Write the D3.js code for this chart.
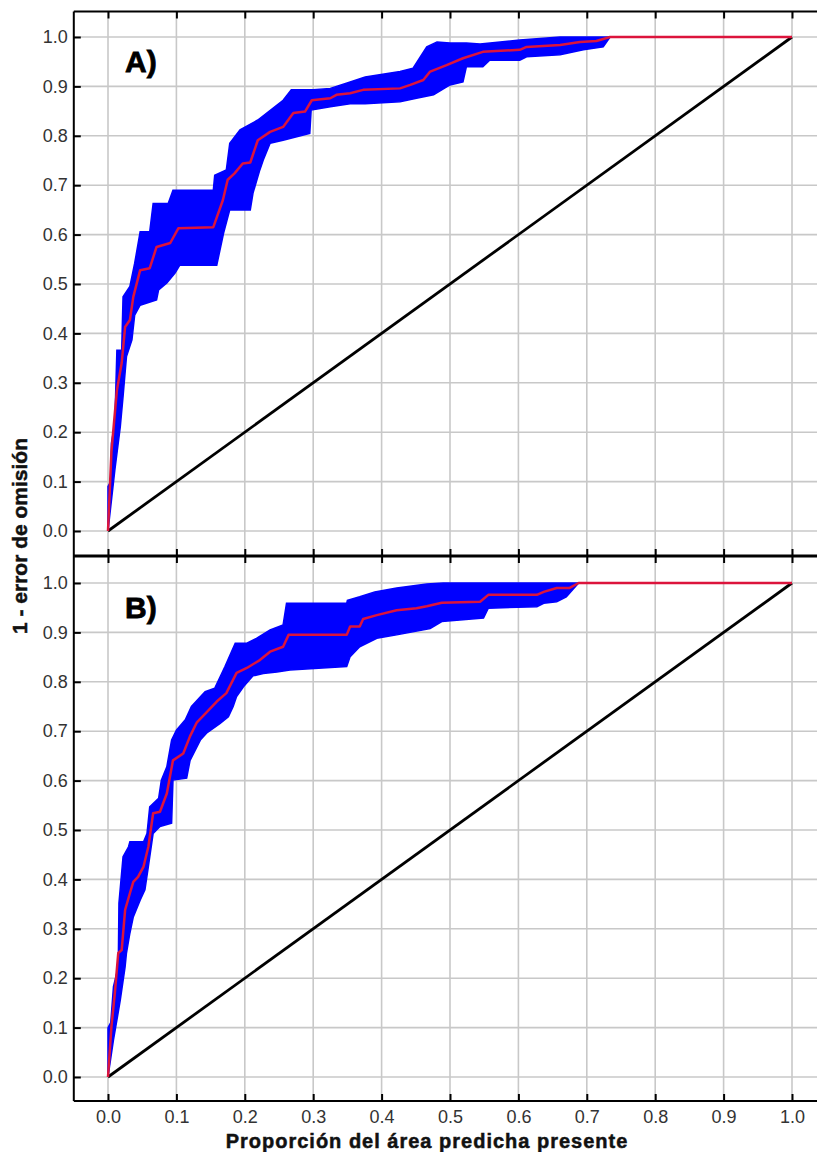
<!DOCTYPE html>
<html>
<head>
<meta charset="utf-8">
<script src="https://cdn.jsdelivr.net/npm/d3@7"></script>
<style>
  html, body { margin: 0; padding: 0; background: #fff; }
  svg { display: block; }
</style>
</head>
<body>
<svg id="chart" width="817" height="1152"></svg>
<script>
// ---------- DATA ----------
const xTicks = [0, 0.1, 0.2, 0.3, 0.4, 0.5, 0.6, 0.7, 0.8, 0.9, 1.0];
const yTicks = [0, 0.1, 0.2, 0.3, 0.4, 0.5, 0.6, 0.7, 0.8, 0.9, 1.0];
const xTickLabels = ["0.0","0.1","0.2","0.3","0.4","0.5","0.6","0.7","0.8","0.9","1.0"];
const yTickLabels = ["0.0","0.1","0.2","0.3","0.4","0.5","0.6","0.7","0.8","0.9","1.0"];
const panelLabels = ["A)", "B)"];
const xTitle = "Proporción del área predicha presente";
const yTitle = "1 - error de omisión";
const diagonal = [[0, 0], [1, 1]];

// Panel A: mean ROC curve, upper and lower band
const meanA = [[0,0],[0.005,0.16],[0.013,0.285],[0.020,0.34],[0.025,0.413],[0.032,0.427],[0.037,0.474],[0.047,0.528],[0.061,0.532],[0.071,0.575],[0.091,0.583],[0.103,0.613],[0.154,0.615],[0.168,0.67],[0.175,0.711],[0.185,0.724],[0.197,0.744],[0.208,0.746],[0.219,0.791],[0.237,0.808],[0.256,0.818],[0.271,0.846],[0.288,0.849],[0.298,0.872],[0.325,0.876],[0.334,0.883],[0.354,0.886],[0.373,0.893],[0.427,0.896],[0.442,0.903],[0.461,0.913],[0.471,0.930],[0.495,0.943],[0.519,0.957],[0.548,0.970],[0.602,0.974],[0.612,0.980],[0.661,0.984],[0.690,0.990],[0.714,0.992],[0.734,1.0],[1,1]];
const upperA = [[0,0],[0,0.09],[0.004,0.10],[0.005,0.178],[0.010,0.219],[0.013,0.366],[0.020,0.366],[0.022,0.474],[0.032,0.495],[0.039,0.542],[0.047,0.606],[0.061,0.606],[0.066,0.663],[0.088,0.663],[0.095,0.690],[0.154,0.690],[0.156,0.720],[0.173,0.731],[0.178,0.785],[0.193,0.812],[0.219,0.832],[0.256,0.872],[0.268,0.893],[0.300,0.893],[0.325,0.896],[0.354,0.909],[0.376,0.919],[0.427,0.930],[0.446,0.937],[0.466,0.980],[0.481,0.990],[0.500,0.988],[0.524,0.988],[0.544,0.986],[0.602,0.994],[0.661,1.0],[1,1]];
const lowerA = [[0,0],[0.010,0.123],[0.018,0.211],[0.022,0.272],[0.027,0.353],[0.035,0.387],[0.039,0.437],[0.047,0.457],[0.071,0.468],[0.074,0.488],[0.086,0.502],[0.098,0.522],[0.105,0.538],[0.159,0.538],[0.169,0.603],[0.178,0.650],[0.208,0.650],[0.212,0.684],[0.222,0.731],[0.227,0.751],[0.237,0.785],[0.256,0.791],[0.295,0.805],[0.297,0.852],[0.325,0.859],[0.354,0.865],[0.376,0.865],[0.427,0.869],[0.451,0.876],[0.476,0.883],[0.500,0.903],[0.519,0.909],[0.524,0.940],[0.548,0.940],[0.558,0.953],[0.602,0.953],[0.612,0.960],[0.661,0.964],[0.695,0.974],[0.724,0.980],[0.734,1.0],[1,1]];

// Panel B: mean ROC curve, upper and lower band
const meanB = [[0,0],[0.005,0.102],[0.010,0.170],[0.015,0.251],[0.020,0.257],[0.025,0.338],[0.032,0.372],[0.037,0.395],[0.044,0.405],[0.052,0.426],[0.059,0.466],[0.066,0.534],[0.076,0.537],[0.086,0.574],[0.095,0.641],[0.110,0.655],[0.120,0.690],[0.130,0.718],[0.144,0.738],[0.159,0.760],[0.173,0.777],[0.188,0.818],[0.203,0.828],[0.222,0.844],[0.237,0.861],[0.256,0.871],[0.264,0.895],[0.349,0.895],[0.354,0.912],[0.368,0.912],[0.373,0.927],[0.393,0.935],[0.422,0.945],[0.451,0.949],[0.466,0.953],[0.488,0.960],[0.544,0.962],[0.556,0.976],[0.627,0.976],[0.637,0.982],[0.656,0.990],[0.675,0.990],[0.688,1.0],[1,1]];
const upperB = [[0,0],[0,0.10],[0.004,0.11],[0.008,0.183],[0.015,0.223],[0.016,0.352],[0.022,0.446],[0.030,0.466],[0.032,0.476],[0.052,0.476],[0.057,0.493],[0.061,0.547],[0.074,0.564],[0.078,0.601],[0.086,0.628],[0.093,0.682],[0.100,0.702],[0.113,0.723],[0.122,0.750],[0.142,0.780],[0.156,0.787],[0.171,0.831],[0.186,0.878],[0.203,0.878],[0.217,0.888],[0.237,0.905],[0.256,0.915],[0.261,0.959],[0.349,0.959],[0.350,0.965],[0.368,0.972],[0.390,0.982],[0.422,0.990],[0.466,0.998],[0.490,1.0],[1,1]];
const lowerB = [[0,0],[0.008,0.075],[0.013,0.115],[0.018,0.156],[0.025,0.223],[0.027,0.251],[0.032,0.291],[0.037,0.324],[0.047,0.358],[0.054,0.379],[0.059,0.426],[0.066,0.493],[0.076,0.507],[0.093,0.514],[0.095,0.601],[0.115,0.605],[0.120,0.641],[0.135,0.682],[0.144,0.696],[0.164,0.716],[0.176,0.729],[0.183,0.750],[0.188,0.770],[0.198,0.790],[0.212,0.812],[0.227,0.817],[0.247,0.820],[0.266,0.824],[0.349,0.831],[0.354,0.851],[0.368,0.871],[0.393,0.888],[0.422,0.895],[0.471,0.908],[0.488,0.922],[0.549,0.929],[0.556,0.949],[0.627,0.952],[0.637,0.959],[0.656,0.962],[0.670,0.972],[0.688,1.0],[1,1]];

// ---------- LAYOUT ----------
const svg = d3.select("#chart");
const FONT = "'Liberation Sans', Arial, sans-serif";

const x = d3.scaleLinear().domain([0, 1]).range([108, 792]);
const xFrame = [-0.05, 1.05];

const panels = [
  { mean: meanA, upper: upperA, lower: lowerA, label: panelLabels[0],
    y: d3.scaleLinear().domain([0, 1]).range([531, 37]), top: 11.5, bottom: 556, showX: false },
  { mean: meanB, upper: upperB, lower: lowerB, label: panelLabels[1],
    y: d3.scaleLinear().domain([0, 1]).range([1077, 583]), top: 556, bottom: 1101, showX: true }
];

const left = x(xFrame[0]);
const right = x(xFrame[1]);

panels.forEach((p, i) => {
  const g = svg.append("g");
  const y = p.y;

  // grid
  g.append("g").selectAll("line.v").data(xTicks).join("line")
    .attr("x1", d => x(d)).attr("x2", d => x(d))
    .attr("y1", p.top).attr("y2", p.bottom)
    .attr("stroke", "#c8c8c8").attr("stroke-width", 1.6);
  g.append("g").selectAll("line.h").data(yTicks).join("line")
    .attr("x1", left).attr("x2", right)
    .attr("y1", d => y(d)).attr("y2", d => y(d))
    .attr("stroke", "#c8c8c8").attr("stroke-width", 1.6);

  const line = d3.line().x(d => x(d[0])).y(d => y(d[1]));

  // confidence band
  const poly = p.upper.concat(p.lower.slice().reverse());
  g.append("path").attr("d", line(poly) + "Z")
    .attr("fill", "#0000ff").attr("stroke", "#0000ff").attr("stroke-width", 1.5)
    .attr("stroke-linejoin", "miter");

  // random diagonal
  g.append("path").attr("d", line(diagonal))
    .attr("fill", "none").attr("stroke", "#000").attr("stroke-width", 2.8);

  // mean curve
  g.append("path").attr("d", line(p.mean))
    .attr("fill", "none").attr("stroke", "#dc143c").attr("stroke-width", 2.5)
    .attr("stroke-linejoin", "round");

  // axes (inside ticks)
  const yAxis = d3.axisLeft(y).tickValues(yTicks)
    .tickFormat((d, k) => yTickLabels[k]).tickSize(-7).tickSizeOuter(0).tickPadding(6);
  const ga = g.append("g").attr("transform", `translate(${left},0)`).call(yAxis);
  ga.select(".domain").remove();
  ga.selectAll(".tick line").attr("stroke", "#000").attr("stroke-width", 2);
  ga.selectAll(".tick text").attr("font-family", FONT).attr("font-size", 18).attr("fill", "#333");

  const topAxis = d3.axisTop(x).tickValues(xTicks).tickFormat("").tickSize(-7).tickSizeOuter(0);
  const gt = g.append("g").attr("transform", `translate(0,${p.top})`).call(topAxis);
  gt.select(".domain").remove();
  gt.selectAll(".tick line").attr("stroke", "#000").attr("stroke-width", 2);

  const botAxis = d3.axisBottom(x).tickValues(xTicks)
    .tickFormat(p.showX ? ((d, k) => xTickLabels[k]) : "")
    .tickSize(-7).tickSizeOuter(0).tickPadding(9);
  const gb = g.append("g").attr("transform", `translate(0,${p.bottom})`).call(botAxis);
  gb.select(".domain").remove();
  gb.selectAll(".tick line").attr("stroke", "#000").attr("stroke-width", 2);
  gb.selectAll(".tick text").attr("font-family", FONT).attr("font-size", 18).attr("fill", "#333");

  // frame
  g.append("line").attr("x1", left).attr("x2", left).attr("y1", p.top).attr("y2", p.bottom)
    .attr("stroke", "#000").attr("stroke-width", 2);
  g.append("line").attr("x1", left).attr("x2", right).attr("y1", p.top).attr("y2", p.top)
    .attr("stroke", "#000").attr("stroke-width", i === 1 ? 3 : 2);
  g.append("line").attr("x1", left).attr("x2", right).attr("y1", p.bottom).attr("y2", p.bottom)
    .attr("stroke", "#000").attr("stroke-width", 2);

  // panel label
  g.append("text").attr("x", x(0.025)).attr("y", y(0.93))
    .attr("font-family", FONT).attr("font-weight", "bold").attr("font-size", 30)
    .attr("fill", "#000").attr("stroke", "#000").attr("stroke-width", 0.8)
    .text(p.label);
});

// axis titles
svg.append("text")
  .attr("x", 427).attr("y", 1148)
  .attr("text-anchor", "middle")
  .attr("font-family", FONT).attr("font-weight", "bold").attr("font-size", 20)
  .attr("letter-spacing", 1)
  .attr("fill", "#111").attr("stroke", "#111").attr("stroke-width", 0.5)
  .text(xTitle);

svg.append("text")
  .attr("transform", "translate(27,536) rotate(-90)")
  .attr("text-anchor", "middle")
  .attr("font-family", FONT).attr("font-weight", "bold").attr("font-size", 21)
  .attr("fill", "#111").attr("stroke", "#111").attr("stroke-width", 0.5)
  .text(yTitle);
</script>
</body>
</html>
